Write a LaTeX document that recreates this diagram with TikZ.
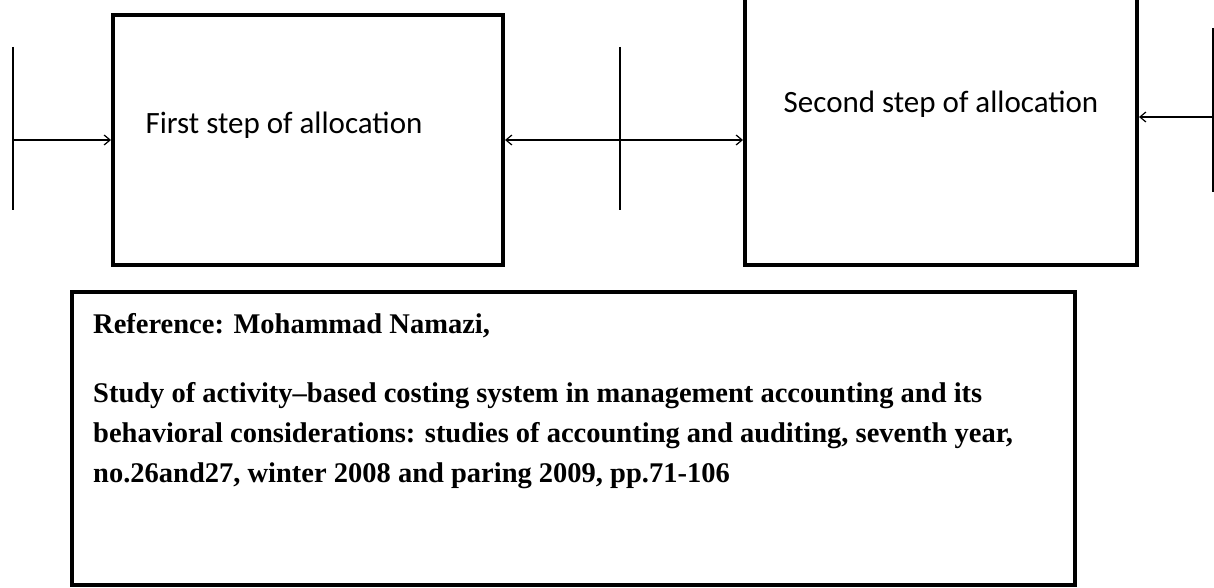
\documentclass[tikz,border=0pt]{standalone}
\usepackage{fontspec}
\setmainfont{Liberation Serif}
\newfontfamily\boxfont{Carlito}
\usetikzlibrary{arrows.meta}
\begin{document}
\begin{tikzpicture}[x=1pt,y=-1pt,
  stepbox/.style={draw,line width=4pt,inner sep=0pt},
  conn/.style={line width=1.4pt},
  tip/.tip={Straight Barb[length=6pt,width=10pt,line width=1.2pt]},
  arr/.style={conn,-tip},
  lbl/.style={font=\boxfont\fontsize{31}{36}\selectfont,inner sep=0pt},
  reftxt/.style={font=\fontsize{28.5}{33}\selectfont\bfseries,inner sep=0pt,anchor=base west}]
\useasboundingbox (0,0) rectangle (1214,588);
\clip (0,0) rectangle (1214,588);
% boxes
\node[stepbox,minimum width=390pt,minimum height=250pt] (b1) at (308,140) {};
\node[stepbox,minimum width=392pt,minimum height=300pt] (b2) at (941,115) {};
\node[lbl] (t1) at (284,125) {First step of allocation};
\node[lbl] (t2) at (941,104) {Second step of allocation};
% left connector
\coordinate (lt) at (13,47);
\coordinate (lb) at (13,210);
\coordinate (lm) at (13,140);
\draw[conn] (lt) -- (lb);
\draw[arr] (lm) -- (lm -| b1.west);
% middle connector
\coordinate (mt) at (620,47);
\coordinate (mb) at (620,210);
\draw[conn] (mt) -- (mb);
\draw[conn,tip-tip] (b1.east) -- (b1.east -| b2.west);
% right connector
\coordinate (rt) at (1213,28);
\coordinate (rb) at (1213,192);
\coordinate (rm) at (1216,117);
\draw[conn] (rt) -- (rb);
\draw[arr] (rm) -- (rm -| b2.east);
% reference box
\node[stepbox,minimum width=1003pt,minimum height=293pt] (rb0) at (573.5,438.5) {};
\node[reftxt] (r1) at (93,333) {Reference: Mohammad Namazi,};
\node[reftxt] (r2) at (93,402) {Study of activity\textendash based costing system in management accounting and its};
\node[reftxt] (r3) at (93,442) {behavioral considerations: studies of accounting and auditing, seventh year,};
\node[reftxt] (r4) at (93,482) {no.26and27, winter 2008 and paring 2009, pp.71-106};
\end{tikzpicture}
\end{document}
